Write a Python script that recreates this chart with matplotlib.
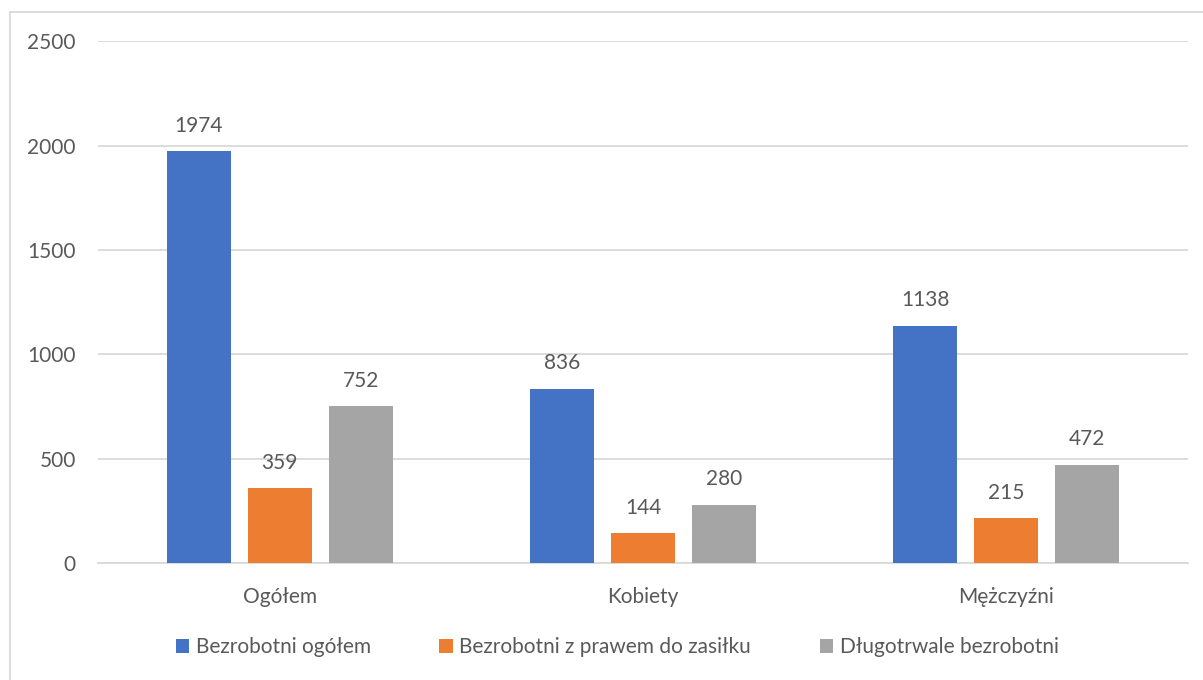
import numpy as np
import matplotlib.pyplot as plt
from matplotlib.patches import Rectangle

# data
categories = ["Ogółem", "Kobiety", "Mężczyźni"]
series_names = ["Bezrobotni ogółem", "Bezrobotni z prawem do zasiłku", "Długotrwale bezrobotni"]
bezrobotni_ogolem = [1974, 836, 1138]
z_prawem_do_zasilku = [359, 144, 215]
dlugotrwale = [752, 280, 472]
y_ticks = [0, 500, 1000, 1500, 2000, 2500]

colors = ["#4472C4", "#ED7D31", "#A5A5A5"]
text_color = "#595959"
grid_color = "#D9D9D9"

plt.rcParams['font.family'] = ['Lato', 'DejaVu Sans']

fig = plt.figure(figsize=(12.03, 6.8), dpi=100)
ax = fig.add_axes([0.0815, 0.172, 0.906, 0.767])

x = np.arange(len(categories))
step = 0.223
width = 0.176
all_series = [bezrobotni_ogolem, z_prawem_do_zasilku, dlugotrwale]
for i, (vals, name) in enumerate(zip(all_series, series_names)):
    bars = ax.bar(x + (i - 1) * step, vals, width, color=colors[i], label=name, zorder=3)
    for b, v in zip(bars, vals):
        ax.annotate(str(v), (b.get_x() + b.get_width() / 2, v), xytext=(0, 11),
                    textcoords="offset points", ha="center", va="bottom",
                    fontsize=15, color=text_color)

ax.set_xlim(-0.5, 2.5)
ax.set_ylim(0, 2500)
ax.set_yticks(y_ticks)
ax.set_yticklabels([str(t) for t in y_ticks])
ax.set_xticks(x)
ax.set_xticklabels(categories)
ax.yaxis.grid(True, color=grid_color, linewidth=1.3, zorder=0)
ax.set_axisbelow(True)
for s in ["top", "right", "left"]:
    ax.spines[s].set_visible(False)
ax.spines["bottom"].set_color(grid_color)
ax.spines["bottom"].set_linewidth(1.3)
ax.tick_params(axis="both", length=0, labelsize=15, colors=text_color)
ax.tick_params(axis="y", pad=16)
ax.tick_params(axis="x", pad=17)

leg = fig.legend(loc="center", bbox_to_anchor=(0.513, 0.048), ncol=3, frameon=False,
                 fontsize=15, handlelength=0.65, handleheight=0.65, handletextpad=0.3,
                 columnspacing=3.3)
for t in leg.get_texts():
    t.set_color(text_color)

# chart border
fig.patches.append(Rectangle((10 / 1203, -0.1), 1.2, 1.1 - 12 / 680, transform=fig.transFigure,
                             fill=False, edgecolor=grid_color, linewidth=1.3))

fig.savefig("out.png", dpi=100, facecolor="white")
